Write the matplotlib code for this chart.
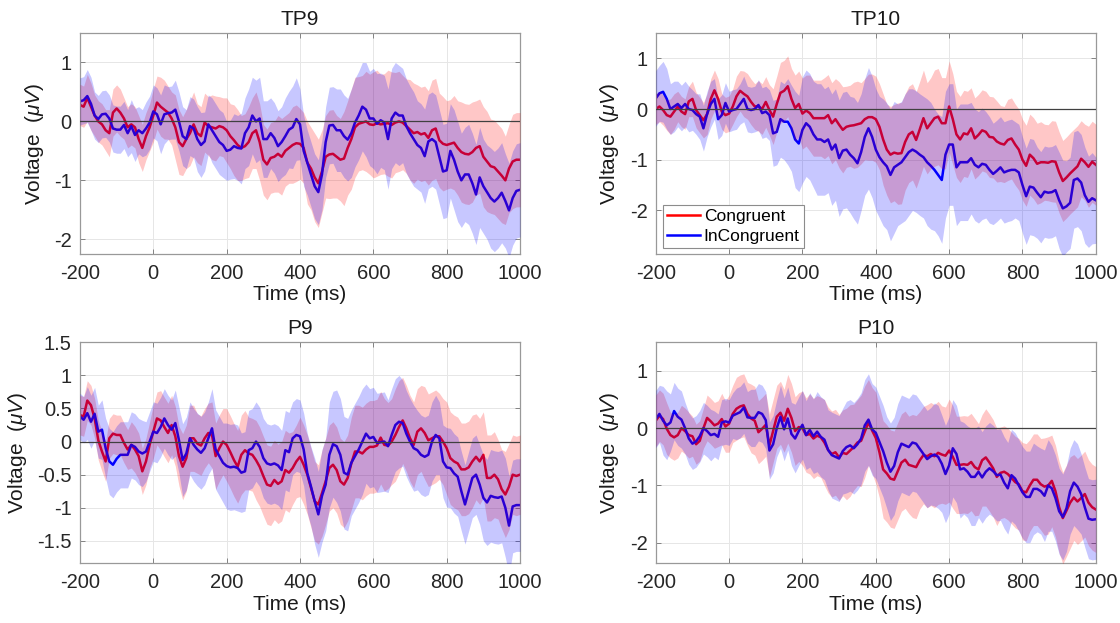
import numpy as np
import matplotlib
matplotlib.use("Agg")
import matplotlib.pyplot as plt

plt.rcParams['font.family'] = ['Liberation Sans', 'DejaVu Sans']
plt.rcParams['mathtext.fontset'] = 'custom'
plt.rcParams['mathtext.rm'] = 'Liberation Sans'
plt.rcParams['mathtext.it'] = 'Liberation Sans:italic'
plt.rcParams['axes.unicode_minus'] = False

# time axis, 10 ms steps (-200 .. 1000 ms)
t = np.arange(-200, 1001, 10)

# ---- TP9 ----
tp9_con = [0.28, 0.25, 0.40, 0.25, 0.10, 0.00, -0.05, -0.15, -0.20, 0.15,
           0.22, 0.15, 0.05, -0.10, -0.05, -0.10, -0.30, -0.45, -0.25, -0.10,
           0.10, 0.32, 0.25, 0.20, 0.15, 0.05, -0.10, -0.35, -0.42, -0.30,
           -0.20, -0.05, -0.20, -0.25, -0.02, -0.08, -0.10, -0.12, -0.08, -0.10,
           -0.15, -0.25, -0.32, -0.40, -0.45, -0.42, -0.35, -0.20, -0.15, -0.35,
           -0.65, -0.73, -0.62, -0.60, -0.55, -0.60, -0.50, -0.45, -0.40, -0.37,
           -0.38, -0.45, -0.70, -0.80, -0.95, -1.05, -0.85, -0.60, -0.56, -0.55,
           -0.60, -0.65, -0.63, -0.45, -0.30, -0.10, -0.04, -0.02, 0.00, -0.05,
           -0.06, -0.03, -0.05, -0.04, -0.03, -0.06, -0.02, 0.00, -0.02, -0.08,
           -0.14, -0.20, -0.18, -0.22, -0.20, -0.28, -0.15, -0.12, -0.32, -0.38,
           -0.40, -0.38, -0.36, -0.45, -0.52, -0.55, -0.56, -0.52, -0.45, -0.42,
           -0.60, -0.68, -0.76, -0.78, -0.85, -0.92, -1.00, -0.80, -0.68, -0.65,
           -0.65]
tp9_inc = [0.34, 0.36, 0.43, 0.30, 0.10, 0.04, 0.12, 0.13, 0.05, -0.12,
           -0.14, -0.14, -0.06, -0.20, -0.08, -0.23, -0.15, -0.20, -0.12, -0.02,
           0.17, 0.12, -0.05, 0.12, 0.14, 0.15, 0.20, 0.00, -0.25, -0.30,
           -0.08, -0.12, -0.30, -0.40, -0.34, -0.05, -0.15, -0.25, -0.35, -0.40,
           -0.50, -0.48, -0.42, -0.45, -0.46, -0.20, -0.10, 0.10, 0.00, 0.05,
           -0.30, -0.30, -0.20, -0.28, -0.42, -0.35, -0.25, -0.14, -0.10, 0.04,
           -0.05, -0.50, -0.70, -0.90, -1.10, -1.20, -0.90, -0.35, -0.07, -0.06,
           -0.15, -0.15, -0.25, -0.31, -0.20, -0.02, 0.10, 0.25, 0.20, 0.05,
           0.05, -0.04, 0.02, -0.02, -0.30, 0.05, 0.15, 0.10, 0.10, -0.08,
           -0.20, -0.30, -0.40, -0.45, -0.59, -0.34, -0.30, -0.35, -0.60, -0.85,
           -0.83, -0.50, -0.65, -0.85, -1.00, -0.90, -0.90, -1.05, -1.24, -0.95,
           -1.10, -1.20, -1.30, -1.36, -1.30, -1.21, -1.35, -1.51, -1.30, -1.18,
           -1.16]
# band half widths, 20 ms steps
tp9_con_sem = [0.35, 0.40, 0.35, 0.35, 0.40, 0.40, 0.35, 0.35, 0.40, 0.40,
               0.45, 0.50, 0.45, 0.55, 0.50, 0.55, 0.50, 0.50, 0.55, 0.50,
               0.55, 0.60, 0.55, 0.60, 0.65, 0.60, 0.60, 0.65, 0.60, 0.65,
               0.60, 0.70, 0.75, 0.70, 0.75, 0.70, 0.80, 0.85, 0.80, 0.85,
               0.90, 0.85, 0.90, 0.85, 0.80, 0.85, 0.80, 0.80, 0.85, 0.80,
               0.75, 0.80, 0.85, 0.85, 0.80, 0.85, 0.80, 0.80, 0.75, 0.80, 0.80]
tp9_inc_sem = [0.40, 0.45, 0.40, 0.40, 0.40, 0.40, 0.40, 0.45, 0.40, 0.45,
               0.45, 0.50, 0.45, 0.50, 0.50, 0.50, 0.55, 0.50, 0.55, 0.55,
               0.50, 0.55, 0.60, 0.65, 0.70, 0.65, 0.60, 0.60, 0.65, 0.70,
               0.60, 0.55, 0.55, 0.60, 0.65, 0.70, 0.70, 0.75, 0.75, 0.80,
               0.85, 0.80, 0.85, 0.85, 0.80, 0.80, 0.75, 0.80, 0.80, 0.80,
               0.80, 0.85, 0.80, 0.85, 0.85, 0.80, 0.85, 0.85, 0.80, 0.80, 0.80]

# ---- TP10 ----
tp10_con = [0.00, 0.05, -0.02, -0.12, -0.15, -0.05, 0.05, -0.05, -0.10, 0.15,
            0.20, -0.02, -0.12, -0.22, -0.10, 0.20, 0.37, 0.20, -0.05, -0.12,
            -0.09, 0.05, 0.25, 0.36, 0.30, 0.25, 0.14, 0.05, 0.06, 0.00,
            0.14, -0.02, -0.15, 0.10, 0.32, 0.36, 0.45, 0.20, 0.02, 0.10,
            -0.09, -0.03, -0.08, -0.18, -0.18, -0.18, -0.18, -0.12, -0.28, -0.20,
            -0.31, -0.41, -0.35, -0.33, -0.32, -0.30, -0.28, -0.20, -0.16, -0.16,
            -0.20, -0.35, -0.60, -0.80, -0.90, -0.86, -0.88, -0.87, -0.65, -0.50,
            -0.45, -0.61, -0.40, -0.18, -0.38, -0.28, -0.18, -0.15, -0.28, -0.28,
            0.05, -0.20, -0.50, -0.60, -0.48, -0.50, -0.38, -0.58, -0.51, -0.42,
            -0.45, -0.55, -0.56, -0.64, -0.68, -0.70, -0.61, -0.58, -0.70, -0.80,
            -1.00, -1.12, -0.90, -0.97, -1.08, -1.05, -1.05, -1.06, -1.03, -1.04,
            -1.25, -1.42, -1.35, -1.27, -1.20, -1.13, -0.98, -1.05, -1.14, -1.04,
            -1.10]
tp10_inc = [0.21, 0.31, 0.34, 0.20, 0.00, 0.05, 0.10, 0.02, 0.10, 0.00,
            -0.02, -0.10, -0.15, -0.38, -0.10, 0.10, 0.20, -0.20, -0.12, 0.12,
            -0.05, -0.02, 0.00, 0.10, 0.20, 0.00, -0.02, 0.00, 0.08, -0.08,
            -0.05, -0.12, -0.48, -0.45, -0.20, -0.25, -0.25, -0.38, -0.60, -0.68,
            -0.41, -0.28, -0.35, -0.50, -0.60, -0.60, -0.65, -0.60, -0.80, -0.70,
            -0.97, -0.82, -0.80, -0.90, -0.97, -1.07, -0.85, -0.55, -0.38, -0.55,
            -0.80, -0.95, -1.05, -1.13, -1.30, -1.15, -1.10, -1.05, -0.95, -0.85,
            -0.80, -0.84, -0.90, -0.95, -1.05, -1.12, -1.20, -1.30, -1.40, -0.90,
            -0.70, -0.70, -1.15, -1.05, -1.05, -1.05, -0.97, -1.10, -1.15, -1.08,
            -1.10, -1.20, -1.28, -1.22, -1.15, -1.25, -1.22, -1.20, -1.20, -1.25,
            -1.50, -1.72, -1.53, -1.55, -1.65, -1.74, -1.63, -1.65, -1.64, -1.60,
            -1.80, -1.96, -1.92, -1.85, -1.40, -1.37, -1.45, -1.70, -1.83, -1.76,
            -1.80]
tp10_con_sem = [0.30, 0.30, 0.35, 0.30, 0.30, 0.35, 0.35, 0.40, 0.40, 0.35,
                0.35, 0.40, 0.45, 0.45, 0.50, 0.50, 0.55, 0.60, 0.60, 0.65,
                0.70, 0.75, 0.75, 0.80, 0.80, 0.85, 0.80, 0.85, 0.80, 0.85,
                0.85, 0.90, 0.95, 1.00, 0.95, 0.95, 0.95, 0.90, 0.95, 0.90,
                0.90, 0.85, 0.85, 0.80, 0.80, 0.80, 0.80, 0.75, 0.80, 0.80,
                0.80, 0.80, 0.80, 0.75, 0.80, 0.80, 0.80, 0.80, 0.75, 0.80, 0.80]
tp10_inc_sem = [0.55, 0.60, 0.50, 0.45, 0.45, 0.40, 0.45, 0.45, 0.40, 0.40,
                0.40, 0.40, 0.45, 0.45, 0.50, 0.50, 0.65, 0.75, 0.85, 0.95,
                1.05, 1.05, 1.10, 1.05, 1.10, 1.15, 1.15, 1.20, 1.15, 1.20,
                1.20, 1.25, 1.30, 1.20, 1.25, 1.20, 1.20, 1.25, 1.20, 1.25,
                1.20, 1.15, 1.15, 1.10, 1.10, 1.05, 1.00, 1.00, 1.00, 0.95,
                0.95, 0.95, 0.90, 0.90, 0.90, 0.95, 0.90, 0.95, 0.95, 0.90, 0.85]

# ---- P9 ----
p9_con = [0.40, 0.38, 0.62, 0.55, 0.35, 0.02, -0.15, -0.30, 0.05, 0.12,
          0.10, 0.10, -0.02, -0.12, -0.05, -0.12, -0.22, -0.45, -0.30, -0.05,
          0.15, 0.35, 0.32, 0.22, 0.13, 0.25, 0.08, -0.22, -0.38, -0.25,
          0.05, 0.05, -0.03, -0.06, 0.05, 0.13, 0.10, -0.22, -0.10, 0.00,
          -0.05, -0.16, -0.28, -0.38, -0.20, -0.13, -0.18, -0.20, -0.28, -0.38,
          -0.52, -0.65, -0.67, -0.58, -0.64, -0.60, -0.43, -0.47, -0.40, -0.30,
          -0.23, -0.35, -0.50, -0.70, -0.90, -0.95, -0.78, -0.60, -0.40, -0.35,
          -0.43, -0.60, -0.65, -0.55, -0.33, -0.15, -0.15, -0.18, -0.12, -0.08,
          -0.08, -0.06, 0.06, -0.05, -0.06, 0.00, 0.10, 0.22, 0.32, 0.20,
          0.05, -0.05, 0.15, 0.20, 0.13, 0.02, 0.05, 0.08, 0.08, 0.00,
          -0.10, -0.25, -0.30, -0.33, -0.42, -0.42, -0.39, -0.30, -0.23, -0.30,
          -0.20, -0.55, -0.55, -0.50, -0.57, -0.72, -0.80, -0.68, -0.50, -0.52,
          -0.50]
p9_inc = [0.38, 0.33, 0.43, 0.30, 0.42, 0.15, 0.18, -0.10, -0.30, -0.35,
          -0.26, -0.20, -0.20, -0.20, -0.05, -0.08, -0.15, -0.18, -0.15, 0.00,
          0.15, 0.13, 0.22, 0.35, 0.25, 0.18, 0.28, 0.02, -0.28, -0.18,
          0.05, -0.05, -0.12, -0.17, -0.10, 0.05, 0.20, -0.12, -0.22, -0.32,
          -0.37, -0.39, -0.38, -0.40, -0.47, -0.45, -0.13, -0.10, 0.00, -0.08,
          -0.25, -0.33, -0.35, -0.33, -0.36, -0.43, -0.13, -0.16, 0.05, 0.10,
          0.08, -0.12, -0.48, -0.68, -0.90, -1.10, -0.82, -0.65, -0.20, -0.04,
          -0.07, -0.20, -0.47, -0.50, -0.32, -0.22, -0.12, 0.00, 0.12, 0.05,
          0.07, -0.02, -0.01, 0.00, -0.07, 0.10, 0.25, 0.30, 0.28, 0.12,
          0.00, -0.10, -0.13, -0.20, -0.23, -0.20, 0.00, 0.10, 0.05, -0.30,
          -0.39, -0.40, -0.48, -0.53, -0.75, -0.95, -0.75, -0.55, -0.50, -0.65,
          -0.85, -0.92, -0.82, -0.84, -0.85, -0.83, -1.00, -1.27, -0.98, -0.96,
          -0.96]
p9_con_sem = [0.30, 0.30, 0.30, 0.30, 0.30, 0.30, 0.30, 0.35, 0.35, 0.35,
              0.40, 0.45, 0.45, 0.45, 0.50, 0.50, 0.45, 0.45, 0.50, 0.50,
              0.55, 0.55, 0.60, 0.55, 0.60, 0.60, 0.60, 0.60, 0.60, 0.55,
              0.60, 0.60, 0.60, 0.65, 0.65, 0.65, 0.65, 0.70, 0.70, 0.70,
              0.70, 0.70, 0.65, 0.70, 0.65, 0.65, 0.65, 0.70, 0.70, 0.65,
              0.70, 0.70, 0.70, 0.70, 0.65, 0.65, 0.65, 0.60, 0.65, 0.60, 0.60]
p9_inc_sem = [0.35, 0.40, 0.40, 0.45, 0.50, 0.50, 0.50, 0.50, 0.50, 0.45,
              0.45, 0.45, 0.45, 0.50, 0.55, 0.55, 0.55, 0.55, 0.60, 0.60,
              0.65, 0.65, 0.60, 0.60, 0.60, 0.60, 0.60, 0.60, 0.60, 0.55,
              0.55, 0.60, 0.65, 0.70, 0.80, 0.85, 0.85, 0.80, 0.80, 0.75,
              0.75, 0.75, 0.70, 0.70, 0.65, 0.65, 0.60, 0.60, 0.60, 0.55,
              0.60, 0.60, 0.60, 0.60, 0.60, 0.65, 0.70, 0.70, 0.75, 0.70, 0.70]

# ---- P10 ----
p10_con = [0.13, 0.22, 0.16, -0.01, -0.12, -0.16, -0.12, 0.00, -0.05, -0.12,
           -0.14, -0.28, -0.22, 0.00, 0.18, 0.12, 0.05, 0.08, 0.16, 0.03,
           0.08, 0.25, 0.34, 0.38, 0.40, 0.25, 0.17, 0.13, -0.07, -0.01,
           0.06, -0.30, -0.05, 0.20, 0.27, 0.13, 0.34, 0.18, -0.05, 0.02,
           0.00, -0.12, -0.10, -0.18, -0.13, -0.16, -0.25, -0.38, -0.45, -0.42,
           -0.51, -0.43, -0.45, -0.39, -0.33, -0.25, -0.22, -0.06, 0.10, -0.04,
           -0.17, -0.42, -0.72, -0.79, -0.88, -0.90, -0.75, -0.60, -0.55, -0.64,
           -0.66, -0.68, -0.56, -0.47, -0.49, -0.45, -0.49, -0.43, -0.46, -0.48,
           -0.39, -0.50, -0.64, -0.64, -0.63, -0.64, -0.59, -0.68, -0.72, -0.56,
           -0.51, -0.60, -0.70, -0.85, -0.78, -0.76, -0.80, -0.87, -0.94, -0.98,
           -1.10, -1.12, -1.00, -0.90, -0.90, -0.98, -1.02, -1.00, -0.92, -1.10,
           -1.38, -1.57, -1.44, -1.30, -1.21, -1.28, -1.22, -1.15, -1.30, -1.38,
           -1.42]
p10_inc = [0.16, 0.25, 0.13, 0.05, 0.10, 0.30, 0.20, 0.15, 0.00, -0.18,
           -0.27, -0.23, -0.14, 0.00, -0.05, -0.12, -0.10, -0.15, 0.10, 0.12,
           0.10, 0.22, 0.25, 0.28, 0.36, 0.19, 0.18, 0.18, 0.28, 0.25,
           0.14, -0.39, -0.28, 0.00, 0.20, -0.02, 0.17, -0.10, -0.18, -0.05,
           0.06, -0.12, -0.03, -0.14, -0.06, -0.15, -0.20, -0.38, -0.47, -0.50,
           -0.53, -0.40, -0.33, -0.30, -0.35, -0.28, -0.18, 0.05, 0.15, -0.02,
           -0.08, -0.24, -0.40, -0.60, -0.76, -0.66, -0.42, -0.27, -0.30, -0.33,
           -0.25, -0.27, -0.36, -0.45, -0.54, -0.49, -0.46, -0.50, -0.62, -0.80,
           -0.65, -0.35, -0.45, -0.72, -0.70, -0.76, -0.85, -0.85, -0.76, -0.86,
           -0.76, -0.70, -0.75, -0.82, -0.81, -0.95, -1.05, -0.82, -0.88, -1.00,
           -1.12, -1.20, -1.20, -1.06, -1.06, -1.10, -1.18, -1.00, -1.05, -1.22,
           -1.45, -1.55, -1.40, -1.10, -0.95, -1.02, -1.15, -1.38, -1.58, -1.60,
           -1.59]
p10_con_sem = [0.45, 0.45, 0.40, 0.40, 0.40, 0.35, 0.35, 0.40, 0.40, 0.45,
               0.50, 0.55, 0.55, 0.60, 0.55, 0.55, 0.55, 0.55, 0.60, 0.60,
               0.65, 0.70, 0.70, 0.75, 0.75, 0.75, 0.80, 0.75, 0.80, 0.75,
               0.80, 0.85, 0.85, 0.85, 0.85, 0.90, 0.85, 0.90, 0.90, 0.85,
               0.90, 0.85, 0.85, 0.85, 0.80, 0.85, 0.85, 0.80, 0.80, 0.80,
               0.85, 0.80, 0.80, 0.85, 0.80, 0.80, 0.80, 0.75, 0.75, 0.75, 0.75]
p10_inc_sem = [0.50, 0.60, 0.50, 0.50, 0.45, 0.45, 0.45, 0.45, 0.40, 0.40,
               0.40, 0.45, 0.45, 0.50, 0.50, 0.50, 0.50, 0.55, 0.55, 0.60,
               0.60, 0.65, 0.70, 0.70, 0.75, 0.75, 0.80, 0.80, 0.80, 0.80,
               0.80, 0.80, 0.85, 0.85, 0.85, 0.85, 0.85, 0.85, 0.90, 0.85,
               0.85, 0.85, 0.80, 0.85, 0.80, 0.80, 0.80, 0.80, 0.80, 0.80,
               0.80, 0.80, 0.75, 0.80, 0.75, 0.75, 0.75, 0.75, 0.70, 0.70, 0.70]

titles = ["TP9", "TP10", "P9", "P10"]
ylims = [(-2.25, 1.5), (-2.86, 1.5), (-1.84, 1.5), (-2.36, 1.5)]
yticks = [[-2, -1, 0, 1], [-2, -1, 0, 1],
          [-1.5, -1, -0.5, 0, 0.5, 1, 1.5], [-2, -1, 0, 1]]
panels = [(tp9_con, tp9_inc, tp9_con_sem, tp9_inc_sem),
          (tp10_con, tp10_inc, tp10_con_sem, tp10_inc_sem),
          (p9_con, p9_inc, p9_con_sem, p9_inc_sem),
          (p10_con, p10_inc, p10_con_sem, p10_inc_sem)]

positions = [[0.0714, 0.5923, 0.3929, 0.3547],
             [0.5855, 0.5923, 0.3929, 0.3547],
             [0.0714, 0.0958, 0.3929, 0.3547],
             [0.5855, 0.0958, 0.3929, 0.3547]]

fig = plt.figure(figsize=(11.2, 6.23), dpi=100)

for i in range(4):
    con, inc, con_sem, inc_sem = [np.array(a) for a in panels[i]]
    con_hw = np.repeat(con_sem, 2)[:len(t)]
    inc_hw = np.repeat(inc_sem, 2)[:len(t)]

    ax = fig.add_axes(positions[i])
    ax.set_axisbelow(True)
    ax.grid(True, color='0.9', linewidth=0.7)

    # lines under the transparent patches (like the MATLAB figure)
    l1, = ax.plot(t, con, color=(1, 0, 0), lw=1.8, zorder=2, label='Congruent')
    l2, = ax.plot(t, inc, color=(0, 0, 1), lw=1.8, zorder=2, label='InCongruent')
    ax.fill_between(t, con - con_hw, con + con_hw, color=(1, 0, 0), alpha=0.22,
                    linewidth=0, zorder=3)
    ax.fill_between(t, inc - inc_hw, inc + inc_hw, color=(0, 0, 1), alpha=0.22,
                    linewidth=0, zorder=3)
    ax.axhline(0, color='0.25', lw=0.9, zorder=4)

    ax.set_xlim(-200, 1000)
    ax.set_ylim(*ylims[i])
    ax.set_xticks(np.arange(-200, 1001, 200))
    ax.set_yticks(yticks[i])
    ax.set_yticklabels([('%g' % v) for v in yticks[i]])
    ax.tick_params(direction='in', length=3.5, width=0.6, color='0.45',
                   labelsize=14.5, labelcolor='0.15', top=True, right=True)
    ax.tick_params(axis='x', pad=7)
    ax.tick_params(axis='y', pad=6)
    for s in ax.spines.values():
        s.set_color('0.6')
        s.set_linewidth(0.9)

    ax.set_title(titles[i], fontsize=15, color='0.1', pad=6)
    ax.set_xlabel('Time (ms)', fontsize=15, color='0.1', labelpad=2)
    ax.set_ylabel(r'Voltage  ($\mu V$)', fontsize=15, color='0.1', labelpad=6)

    if i == 1:
        leg = ax.legend(handles=[l1, l2], loc='lower left',
                        bbox_to_anchor=(0.0166, 0.026), borderaxespad=0,
                        fontsize=12.5, frameon=True, fancybox=False,
                        framealpha=1, edgecolor='0.55', handlelength=1.9,
                        handletextpad=0.2, borderpad=0.25, labelspacing=0.25)
        leg.get_frame().set_linewidth(0.8)
        leg.set_zorder(10)

fig.savefig("out.png", dpi=100)
